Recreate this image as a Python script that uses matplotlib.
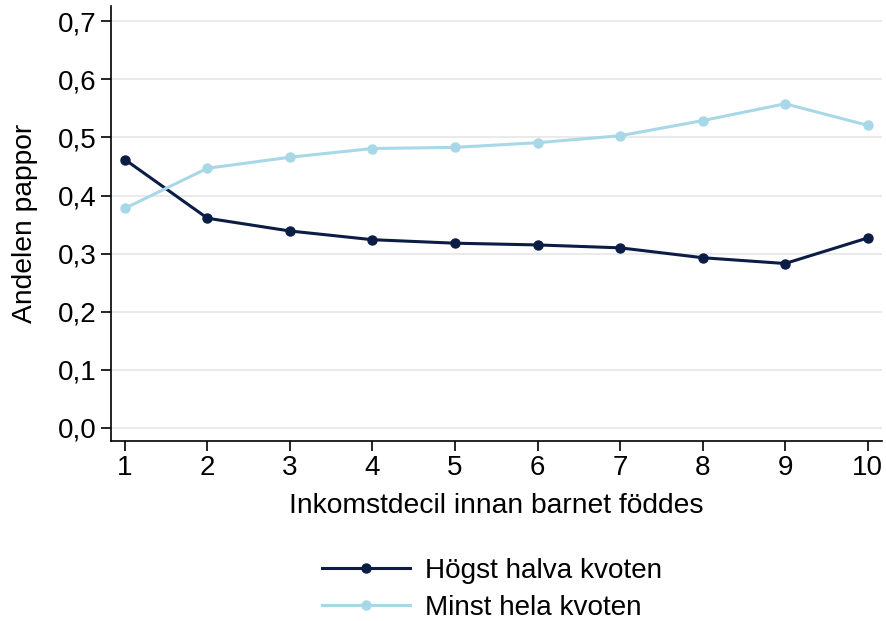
import matplotlib.pyplot as plt
import numpy as np

plt.rcParams['font.family'] = ['Liberation Sans', 'DejaVu Sans']

# Inkomstdecil och andelen pappor
deciler = [1, 2, 3, 4, 5, 6, 7, 8, 9, 10]
hogst_halva = [0.462, 0.361, 0.339, 0.324, 0.318, 0.315, 0.310, 0.293, 0.283, 0.327]
minst_hela = [0.378, 0.447, 0.466, 0.481, 0.483, 0.491, 0.503, 0.529, 0.558, 0.521]
yticks = [0.0, 0.1, 0.2, 0.3, 0.4, 0.5, 0.6, 0.7]
ytick_labels = ['0,0', '0,1', '0,2', '0,3', '0,4', '0,5', '0,6', '0,7']

fig = plt.figure(figsize=(8.87, 6.21), dpi=100)
ax = fig.add_axes([0.125, 0.29, 0.869, 0.70])

ax.plot(deciler, hogst_halva, color='#0b1d45', lw=2.2, marker='o', ms=6.5,
        label='Högst halva kvoten', zorder=3)
ax.plot(deciler, minst_hela, color='#a8d8e8', lw=2.2, marker='o', ms=6.5,
        label='Minst hela kvoten', zorder=3)

ax.set_xlim(0.83, 10.17)
ax.set_ylim(-0.0224, 0.726)
ax.set_xticks(deciler)
ax.set_yticks(yticks)
ax.set_yticklabels(ytick_labels)
ax.grid(axis='y', color='#eaeaea', lw=1.5)
ax.set_axisbelow(True)

for s in ['top', 'right']:
    ax.spines[s].set_visible(False)
for s in ['left', 'bottom']:
    ax.spines[s].set_linewidth(1.2)
ax.tick_params(labelsize=20, length=7, width=1.2, direction='out')

ax.set_xlabel('Inkomstdecil innan barnet föddes', fontsize=20.3, labelpad=8)
ax.set_ylabel('Andelen pappor', fontsize=20.3, labelpad=14)

fig.legend(loc='lower center', bbox_to_anchor=(0.555, -0.04), frameon=False,
           fontsize=20.1, handlelength=3.15, handletextpad=0.55, labelspacing=0.4)

fig.savefig('out.png', dpi=100)
